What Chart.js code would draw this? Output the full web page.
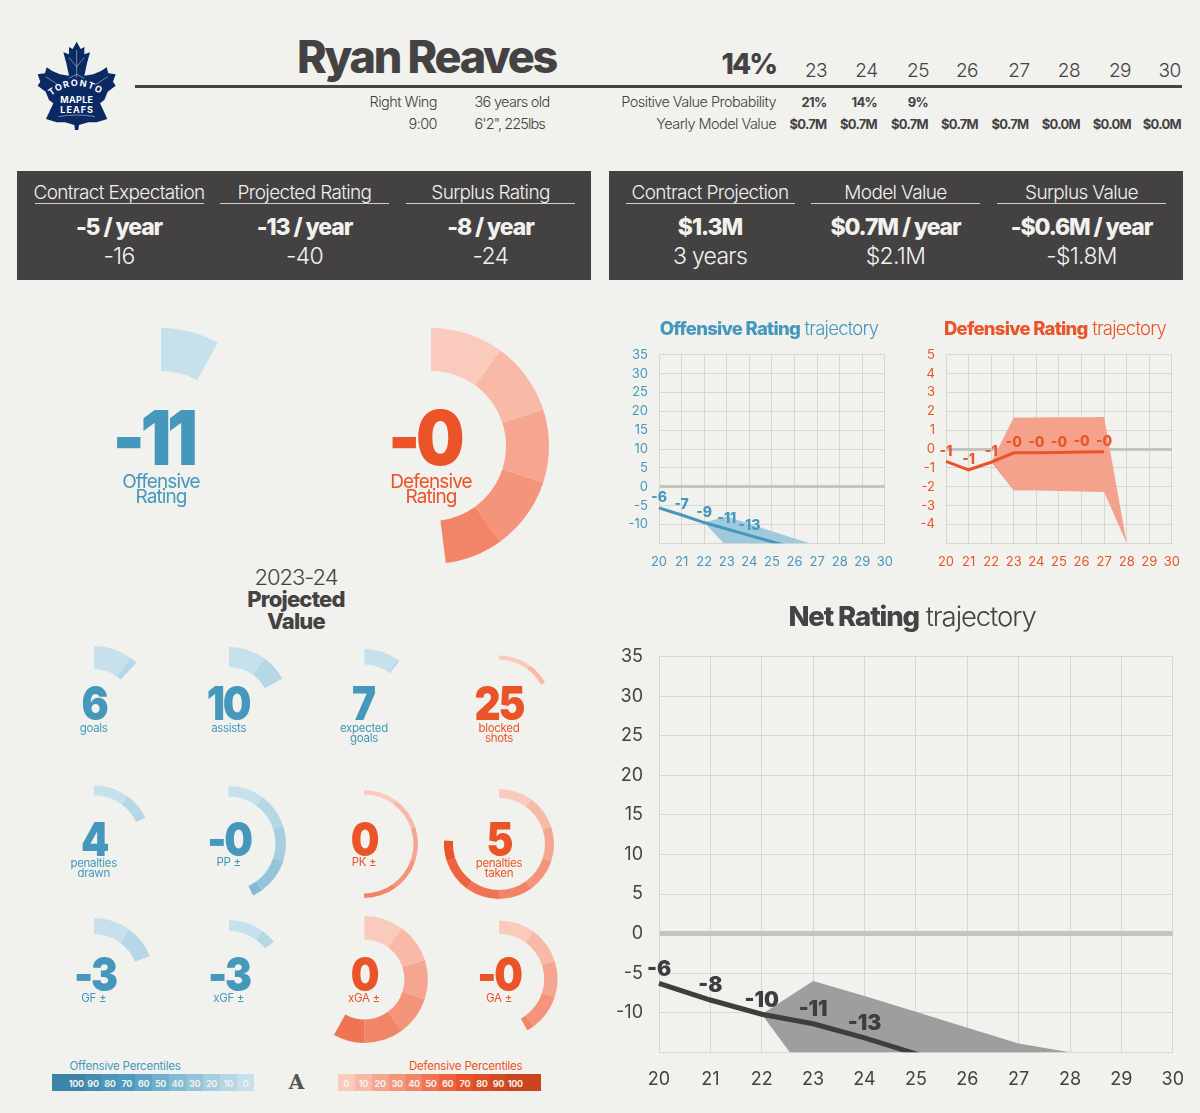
<!DOCTYPE html>
<html>
<head>
<meta charset="utf-8">
<title>Ryan Reaves</title>
<script src="https://cdn.jsdelivr.net/npm/chart.js@4"></script>
<style>
html, body { margin: 0; padding: 0; background: #f1f1ee; }
#page { position: relative; width: 1200px; height: 1113px; overflow: hidden; font-family: Inter, sans-serif; color: #444242; }
#page canvas { position: absolute; }
.t { position: absolute; white-space: nowrap; line-height: 1; }
.box { position: absolute; background: #434141; top: 171px; height: 109px; }
.rule { position: absolute; height: 1px; top: 203px; background: #cfcfcb; }
.seg { position: absolute; top: 1074px; height: 17px; }
</style>
</head>
<body>
<div id="page"></div>
<script>
'use strict';

// trajectory charts
var ages = ['20', '21', '22', '23', '24', '25', '26', '27', '28', '29', '30'];

var offLine = [-5.6, -7.5, -9.5, -11.2, -12.9, -14.6, -16.3, -18];
var offUpper = [null, null, -9.5, -7.9, -9.8, -11.8, -13.7, -15.6, -18];
var offLower = [null, null, -9.5, -15.9, -18, -20, -22, -24, -26];
var offPointLabels = ['-6', '-7', '-9', '-11', '-13'];

var defLine = [-0.65, -1.1, -0.7, -0.2, -0.2, -0.18, -0.16, -0.14];
var defUpper = [null, null, -0.7, 1.68, 1.68, 1.69, 1.69, 1.7, -5];
var defLower = [null, null, -0.7, -2.2, -2.2, -2.22, -2.25, -2.28, -5];
var defPointLabels = ['-1', '-1', '-1', '-0', '-0', '-0', '-0', '-0'];

var netLine = [-6.3, -8.4, -10.2, -11.4, -13.2, -15.2, -17.2, -19];
var netUpper = [null, null, -10.2, -6, -7.9, -9.9, -11.9, -13.9, -15];
var netLower = [null, null, -10.2, -19, -22, -23, -24, -24, -24];
var netPointLabels = ['-6', '-8', '-10', '-11', '-13'];

// percentile gauges
var gaugeLabels = ['Offensive Rating', 'Defensive Rating', 'goals', 'assists', 'expected goals', 'blocked shots',
    'penalties drawn', 'PP ±', 'PK ±', 'penalties taken', 'GF ±', 'xGF ±', 'xGA ±', 'GA ±'];
var gaugeValues = ['-11', '-0', '6', '10', '7', '25', '4', '-0', '0', '5', '-3', '-3', '0', '-0'];
var gaugePercentiles = [8, 48, 12, 17, 10.6, 17, 18, 43, 50, 76, 19, 14.4, 58, 42];
var gaugeSides = ['o', 'd', 'o', 'o', 'o', 'd', 'o', 'o', 'd', 'd', 'o', 'o', 'd', 'd'];

// header tables
var seasons = ['23', '24', '25', '26', '27', '28', '29', '30'];
var probabilities = ['21%', '14%', '9%'];
var yearlyValues = ['$0.7M', '$0.7M', '$0.7M', '$0.7M', '$0.7M', '$0.0M', '$0.0M', '$0.0M'];
var ratingHeads = ['Contract Expectation', 'Projected Rating', 'Surplus Rating'];
var ratingYearly = ['-5 / year', '-13 / year', '-8 / year'];
var ratingTotals = ['-16', '-40', '-24'];
var valueHeads = ['Contract Projection', 'Model Value', 'Surplus Value'];
var valueYearly = ['$1.3M', '$0.7M / year', '-$0.6M / year'];
var valueTotals = ['3 years', '$2.1M', '-$1.8M'];
var legendSteps = ['0', '10', '20', '30', '40', '50', '60', '70', '80', '90', '100'];

var BLUE = '#4598bc';
var RED = '#ea5428';
var DARK = '#444242';
var blues = ['#c6e0ec', '#b6d7e6', '#a5cee0', '#94c4da', '#83bad5', '#6eafcd', '#5da5c6', '#4b9bbf', '#4896b9', '#428db0', '#3d85a8'];
var reds = ['#facabd', '#f8b9a6', '#f6a690', '#f4957b', '#f28568', '#f07354', '#ed6342', '#ea5428', '#dc4e24', '#d24a21', '#c8451e'];

var page = document.getElementById('page');

function text(str, x, y, css, align, squeeze) {
    var el = document.createElement('div');
    el.className = 't';
    el.textContent = str;
    el.style.cssText = 'left:' + x + 'px;top:' + y + 'px;' + (css || '');
    var tx = align === 'right' ? '-100%' : align === 'left' ? '0' : '-50%';
    el.style.transform = 'translate(' + tx + ',-50%)' + (squeeze ? ' scaleX(' + squeeze + ')' : '');
    page.appendChild(el);
    return el;
}

function place(cls, x, w, css) {
    var el = document.createElement('div');
    el.className = cls;
    el.style.cssText = 'left:' + x + 'px;width:' + w + 'px;' + (css || '');
    page.appendChild(el);
}

function canvas(x, y, w, h) {
    var c = document.createElement('canvas');
    c.width = w;
    c.height = h;
    c.style.left = x + 'px';
    c.style.top = y + 'px';
    c.style.width = w + 'px';
    c.style.height = h + 'px';
    page.appendChild(c);
    return c;
}

function trajectory(cfg) {
    var w = Math.round(cfg.yWidth + cfg.plotW + 30);
    var h = Math.round(30 + cfg.plotH + cfg.xHeight);
    var c = canvas(cfg.left - cfg.yWidth, cfg.top - 30, w, h);

    var pointLabels = {
        id: 'pointLabels',
        afterDatasetsDraw: function (chart) {
            var g = chart.ctx;
            g.save();
            g.font = cfg.labelFont;
            g.fillStyle = cfg.color;
            g.textAlign = 'center';
            g.textBaseline = 'middle';
            cfg.labels.forEach(function (lab, i) {
                var px = chart.scales.x.getPixelForValue(i);
                var py = chart.scales.y.getPixelForValue(cfg.line[i]);
                g.fillText(lab, px, py - cfg.labelGap);
            });
            g.restore();
        }
    };

    var chart = new Chart(c, {
        type: 'line',
        data: {
            labels: ages,
            datasets: [
                { data: cfg.line, borderColor: cfg.color, borderWidth: cfg.lineWidth, pointRadius: 0, tension: 0, fill: false },
                { data: cfg.upper, borderWidth: 0, pointRadius: 0, backgroundColor: cfg.band, fill: '+1' },
                { data: cfg.lower, borderWidth: 0, pointRadius: 0, fill: false }
            ]
        },
        options: {
            responsive: false,
            animation: false,
            events: [],
            plugins: { legend: { display: false }, tooltip: { enabled: false } },
            scales: {
                x: {
                    afterFit: function (s) { s.height = cfg.xHeight; },
                    grid: { color: '#d6d6d2', drawTicks: false },
                    border: { color: '#d6d6d2' },
                    ticks: { color: cfg.tickColor, padding: cfg.xPad, maxRotation: 0, autoSkip: false, font: { family: 'Inter', size: cfg.tickSize } }
                },
                y: {
                    min: cfg.min,
                    max: cfg.max,
                    afterFit: function (s) { s.width = cfg.yWidth; },
                    grid: {
                        drawTicks: false,
                        color: function (k) { return k.tick && k.tick.value === 0 ? '#c4c4be' : '#d6d6d2'; },
                        lineWidth: function (k) { return k.tick && k.tick.value === 0 ? cfg.zeroWidth : 1; }
                    },
                    border: { color: '#d6d6d2' },
                    ticks: {
                        stepSize: cfg.step,
                        autoSkip: false,
                        color: cfg.tickColor,
                        padding: cfg.yPad,
                        font: { family: 'Inter', size: cfg.tickSize },
                        callback: function (v) { return v === cfg.min ? '' : String(v); }
                    }
                }
            }
        },
        plugins: [pointLabels]
    });

    // the scales add their own padding, so fit the canvas until the plot area lands where it should
    var a = chart.chartArea;
    chart.resize(w + cfg.plotW - (a.right - a.left), h + cfg.plotH - (a.bottom - a.top));
    a = chart.chartArea;
    c.style.left = (cfg.left - a.left) + 'px';
    c.style.top = (cfg.top - a.top) + 'px';
}

trajectory({
    left: 659, top: 355, plotW: 228.5, plotH: 188.5, yWidth: 40, xHeight: 32,
    min: -15, max: 35, step: 5, line: offLine, upper: offUpper, lower: offLower, labels: offPointLabels,
    color: BLUE, tickColor: BLUE, band: '#9fc9dd', lineWidth: 3, zeroWidth: 3, tickSize: 13, xPad: 11, yPad: 11,
    labelFont: '800 14px Inter', labelGap: 10
});
trajectory({
    left: 946, top: 355, plotW: 228.5, plotH: 188.5, yWidth: 40, xHeight: 32,
    min: -5, max: 5, step: 1, line: defLine, upper: defUpper, lower: defLower, labels: defPointLabels,
    color: RED, tickColor: RED, band: '#f5a28d', lineWidth: 3, zeroWidth: 3, tickSize: 13, xPad: 11, yPad: 11,
    labelFont: '800 14px Inter', labelGap: 10
});
trajectory({
    left: 659, top: 656.6, plotW: 515.5, plotH: 395.4, yWidth: 50, xHeight: 45,
    min: -15, max: 35, step: 5, line: netLine, upper: netUpper, lower: netLower, labels: netPointLabels,
    color: '#3f3e3e', tickColor: DARK, band: '#9e9e9e', lineWidth: 5, zeroWidth: 5, tickSize: 18, xPad: 17, yPad: 16,
    labelFont: '900 21px Inter', labelGap: 14
});

// layout of the gauges, same order as gaugeLabels: centre x, centre y, outer and inner radius
var gaugeBoxes = [
    [161, 446, 118, 75], [431, 446, 118, 75],
    [93.7, 708, 62, 39], [228.7, 708, 61, 41], [364, 705.5, 56.5, 41], [499, 707.6, 52.6, 48.5],
    [93.7, 842.4, 56.7, 47], [228.7, 843.5, 57.5, 47], [364, 844, 54, 49.5], [499, 844, 55, 46],
    [93.7, 978, 60, 44], [228.7, 977, 57, 46], [364, 979, 63.4, 40], [499, 978.6, 58.6, 45.5]
];

gaugePercentiles.forEach(function (pct, i) {
    var b = gaugeBoxes[i];
    var size = Math.ceil(b[2] * 2);
    var scale = gaugeSides[i] === 'o' ? blues : reds;
    var slices = [];
    var colors = [];
    for (var k = 0; k * 10 < pct; k++) {
        slices.push(Math.min(10, pct - k * 10));
        colors.push(scale[k]);
    }
    slices.push(100 - pct);
    colors.push('rgba(0,0,0,0)');
    new Chart(canvas(b[0] - size / 2, b[1] - size / 2, size, size), {
        type: 'doughnut',
        data: { datasets: [{ data: slices, backgroundColor: colors, borderWidth: 0 }] },
        options: {
            responsive: false,
            animation: false,
            events: [],
            cutout: b[3],
            radius: b[2],
            plugins: { legend: { display: false }, tooltip: { enabled: false } }
        }
    });
});

// header
function logo() {
    var holder = document.createElement('div');
    holder.style.cssText = 'position:absolute;left:25px;top:35px;width:105px;height:105px;';
    var lettering = 'font-family="Inter" font-weight="700" font-size="27" fill="#fff"';
    holder.innerHTML = '<svg viewBox="0 0 315 315" width="105" height="105">' +
        '<polygon fill="#0b2a63" points="155,20 167,42 178,36 178,58 195,52 186,85 178,122 205,118 228,108 245,97 250,115 272,118 264,140 272,152 248,170 238,195 225,205 247,252 215,262 190,262 162,270 160,285 150,285 148,270 120,262 95,262 63,252 85,205 72,195 62,170 38,152 46,140 38,118 60,115 65,97 82,108 105,118 132,122 124,85 115,52 132,58 132,36 143,42"/>' +
        '<path d="M155 45V128M155 95L132 68M155 95L178 68M155 118L132 130M155 118L178 130M62 125L100 150M248 125L210 150M100 245Q155 235 210 245" stroke="#dfe5ef" stroke-width="1.5" fill="none"/>' +
        '<path id="arcTop" d="M76 184Q155 122 234 184" fill="none"/>' +
        '<text ' + lettering + '><textPath href="#arcTop" startOffset="2" textLength="158" lengthAdjust="spacing">TORONTO</textPath></text>' +
        '<text x="106" y="205" ' + lettering + ' textLength="98">MAPLE</text>' +
        '<text x="106" y="233" ' + lettering + ' textLength="98">LEAFS</text>' +
        '</svg>';
    page.appendChild(holder);
}
logo();

text('Ryan Reaves', 426.5, 56, 'font-size:45px;font-weight:800;letter-spacing:-2.3px;color:' + DARK);
var headRule = document.createElement('div');
headRule.style.cssText = 'position:absolute;left:135px;width:1047px;top:85px;height:3px;background:#454343;';
page.appendChild(headRule);
text('14%', 776, 64, 'font-size:28px;font-weight:800;letter-spacing:-2px;', 'right');

var seasonX = [816, 866.5, 918, 967, 1019, 1069, 1120, 1169.5];
var valueRight = [826.5, 877, 928, 978, 1028.5, 1080, 1131, 1181];
seasons.forEach(function (s, i) {
    text(s, seasonX[i], 70, 'font-size:19px;font-weight:300;letter-spacing:-0.5px;');
    text(yearlyValues[i], valueRight[i], 124, 'font-size:13px;font-weight:700;letter-spacing:-0.7px;', 'right');
});
probabilities.forEach(function (s, i) {
    text(s, valueRight[i], 102, 'font-size:13px;font-weight:700;letter-spacing:-0.7px;', 'right');
});
var lightRow = 'font-size:14.5px;font-weight:300;letter-spacing:-0.55px;';
text('Positive Value Probability', 776, 102, lightRow, 'right');
text('Yearly Model Value', 776, 124, lightRow, 'right');
text('Right Wing', 437, 102, lightRow, 'right');
text('9:00', 437, 124, lightRow, 'right');
text('36 years old', 474.5, 102, lightRow + 'letter-spacing:-0.7px;', 'left');
text("6'2\", 225lbs", 474.5, 124, lightRow + 'letter-spacing:-0.9px;', 'left');

// dark boxes
place('box', 17, 574);
place('box', 608.5, 574);
function boxColumns(starts, heads, yearly, totals) {
    heads.forEach(function (h, i) {
        var x = starts[i];
        var cx = x + 84.5;
        place('rule', x, 169);
        text(h, cx, 191.5, 'color:#f1f1ee;font-size:19px;font-weight:300;letter-spacing:-0.65px;');
        text(yearly[i], cx, 226.5, 'color:#f1f1ee;font-size:23px;font-weight:800;letter-spacing:-1.1px;');
        text(totals[i], cx, 255.5, 'color:#f1f1ee;font-size:23px;font-weight:300;letter-spacing:-0.7px;');
    });
}
boxColumns([34.5, 220, 406], ratingHeads, ratingYearly, ratingTotals);
boxColumns([625.5, 811, 997], valueHeads, valueYearly, valueTotals);

// trajectory titles
function title(bold, x, y, size, color) {
    var el = text('', x, y, 'font-size:' + size + 'px;letter-spacing:' + (-size * 0.04) + 'px;color:' + color);
    var b = document.createElement('span');
    b.style.fontWeight = '800';
    b.textContent = bold;
    var l = document.createElement('span');
    l.style.fontWeight = '300';
    l.textContent = ' trajectory';
    el.appendChild(b);
    el.appendChild(l);
}
title('Offensive Rating', 769, 328, 18.5, BLUE);
title('Defensive Rating', 1055, 328, 18.5, RED);
title('Net Rating', 912, 617, 27.5, DARK);

// gauge numbers and captions
var numberPos = [
    [152.5, 437, 76], [424, 437, 76],
    [94, 702, 47], [228, 702, 47], [363, 702, 47], [498.7, 702, 47],
    [94, 837.5, 47], [228.7, 837.5, 47], [363.7, 837.5, 47], [499, 837.5, 47],
    [95, 972.7, 47], [229.4, 972.7, 47], [363.7, 972.7, 47], [499, 972.7, 47]
];
var captionY = [480.5, 480.5, 729, 729, 729, 729, 864, 863, 863, 864, 999, 999, 999, 999];
gaugeValues.forEach(function (v, i) {
    var p = numberPos[i];
    var color = gaugeSides[i] === 'o' ? BLUE : RED;
    var big = i < 2;
    text(v, p[0], p[1], 'font-weight:900;font-size:' + p[2] + 'px;letter-spacing:' + (big ? -5 : -2.5) + 'px;color:' + color, null, big ? 0.9 : 0.86);
    var words = gaugeLabels[i].indexOf('±') >= 0 ? [gaugeLabels[i]] : gaugeLabels[i].split(' ');
    words.forEach(function (w, k) {
        text(w, gaugeBoxes[i][0], captionY[i] + k * (big ? 15.5 : 9.5),
            'font-size:' + (big ? 19 : 11.5) + 'px;font-weight:400;letter-spacing:' + (big ? -0.9 : -0.3) + 'px;color:' + color);
    });
});

text('2023-24', 296, 577, 'font-size:22px;font-weight:300;letter-spacing:-1px;');
text('Projected', 296, 599, 'font-size:22px;font-weight:800;letter-spacing:-0.8px;');
text('Value', 296, 621, 'font-size:22px;font-weight:800;letter-spacing:-0.8px;');

// percentile legends
var legendOffX = [245.6, 228.4, 211.5, 194.6, 177.4, 160.5, 143.7, 126.8, 109.9, 93, 76.2];
var legendDefX = [346.5, 363.4, 380.2, 397.1, 414, 430.9, 447.7, 464.9, 481.8, 498.3, 515.2];
legendSteps.forEach(function (s, i) {
    var xo = legendOffX[i];
    var left = i === 10 ? 51.5 : xo - 8.45;
    place('seg', left, xo + 8.45 - left, 'background:' + blues[i]);
    var xd = legendDefX[i];
    var right = i === 10 ? 541 : xd + 8.45;
    place('seg', xd - 8.45, right - xd + 8.45, 'background:' + reds[i]);
    var small = 'color:#f1f1ee;font-size:9px;font-weight:700;letter-spacing:-0.3px;';
    text(s, xo, 1082.5, small);
    text(s, xd, 1082.5, small);
});
text('Offensive Percentiles', 69.5, 1067, 'font-size:11.5px;font-weight:400;letter-spacing:-0.2px;color:' + BLUE, 'left');
text('Defensive Percentiles', 522.5, 1067, 'font-size:11.5px;font-weight:400;letter-spacing:-0.2px;color:' + RED, 'right');
text('A', 296.5, 1082, "font-family:'DejaVu Serif',serif;font-weight:700;font-size:20px;color:#555;");
</script>
</body>
</html>
